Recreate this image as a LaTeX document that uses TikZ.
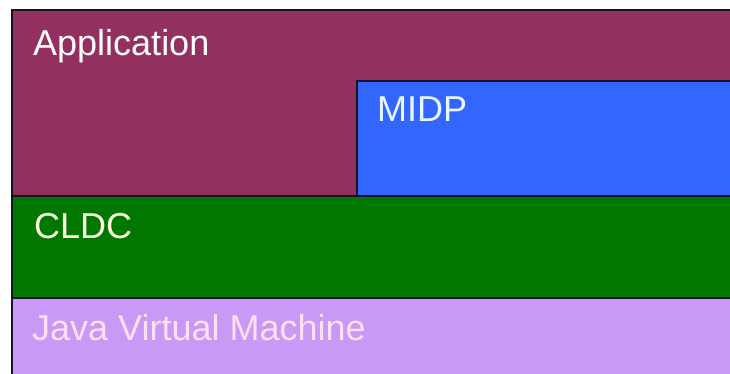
\documentclass[tikz,border=0pt]{standalone}
\usepackage{fontspec}
\setmainfont{Liberation Sans}
\usepackage{xcolor}
\definecolor{AppMaroon}{RGB}{146,49,95}
\definecolor{MidpBlue}{RGB}{51,102,255}
\definecolor{CldcGreen}{RGB}{0,120,0}
\definecolor{JvmLilac}{RGB}{200,153,245}
\definecolor{EdgeDark}{RGB}{20,20,40}
\tikzset{
    layer/.style={draw=EdgeDark, line width=1.4pt},
    lbl/.style={anchor=base west, inner sep=0pt, font=\fontsize{36}{40}\selectfont}
}

\begin{document}
\begin{tikzpicture}[x=1pt, y=-1pt]
    % Page area
    \clip (0,0) rectangle (730,373);
    \fill[white] (0,0) rectangle (730,373);

    % Stack layers
    \draw[layer, fill=AppMaroon] (12,10) rectangle (740,196);
    \draw[layer, fill=MidpBlue] (357,81) rectangle (740,196);
    \draw[layer, fill=CldcGreen] (12,196) rectangle (740,298);
    \draw[layer, fill=JvmLilac] (12,298) rectangle (740,390);

    % Layer names
    \node[lbl, text=white!95!pink] (app) at (33,55) {Application};
    \node[lbl, text=white!90!cyan] (midp) at (377,121) {MIDP};
    \node[lbl, text=white!88!yellow] (cldc) at (34,238) {CLDC};
    \node[lbl, text=white!88!magenta] (jvm) at (32,340) {Java Virtual Machine};
\end{tikzpicture}
\end{document}
